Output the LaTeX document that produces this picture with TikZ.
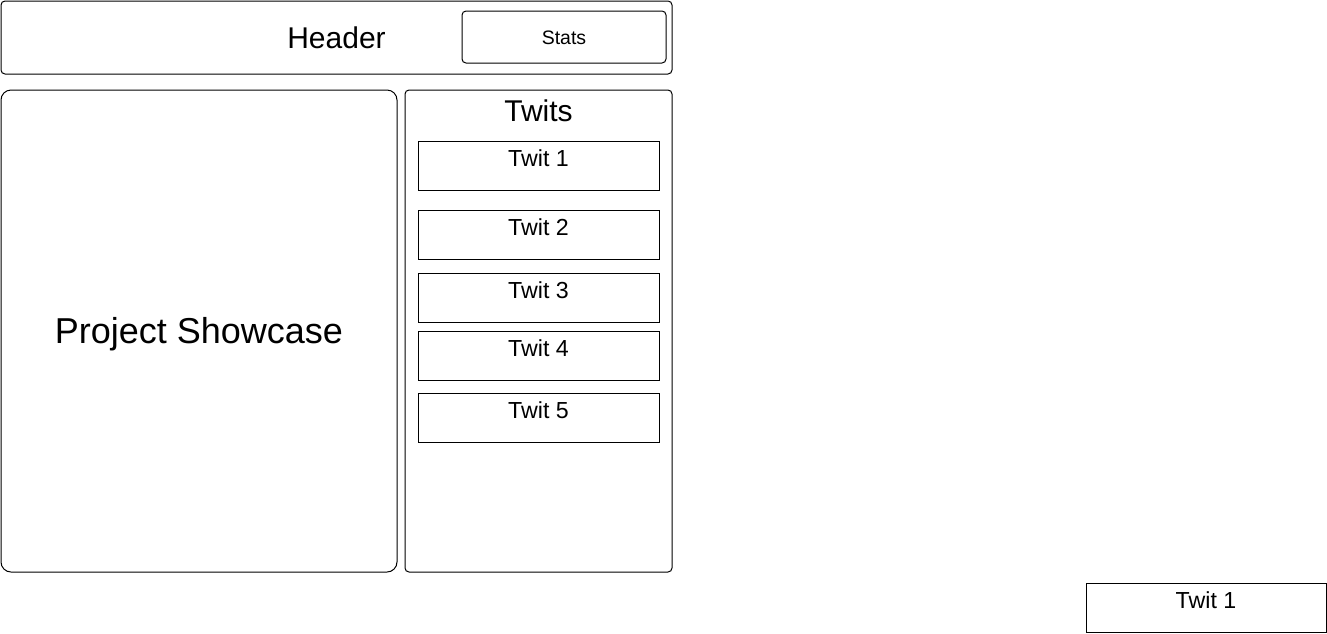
\documentclass[tikz,border=0pt]{standalone}
\usepackage{fontspec}
\setmainfont{Liberation Sans}
\tikzset{every picture/.style={line width=0.75pt}}
\tikzset{
	panel/.style={rounded corners=3pt},
	bigpanel/.style={rounded corners=7.5pt},
	txt/.style={anchor=base,inner sep=0.75pt},
	hugefont/.style={font=\fontsize{27}{32}\selectfont},
	titlefont/.style={font=\fontsize{22.5}{27}\selectfont},
	twitfont/.style={font=\fontsize{17.4}{21}\selectfont},
	statfont/.style={font=\fontsize{14.6}{18}\selectfont}
}
\begin{document}
\begin{tikzpicture}[x=0.75pt,y=0.75pt,yscale=-1,xscale=1]
	\useasboundingbox (0,0) rectangle (1327,633);
	
	%Rounded Rect [id:header]
	\draw [panel] (1,1) rectangle (672,74);
	%Rounded Rect [id:stats]
	\draw [panel] (462,11) rectangle (666,63);
	%Rounded Rect [id:showcase]
	\draw [bigpanel] (1,90) rectangle (397,572);
	%Rounded Rect [id:twitpanel]
	\draw [panel] (405,90) rectangle (672,572);
	
	%Shape: Rectangle [id:twit boxes]
	\draw (418,141) rectangle (659,190);
	\draw (418,210) rectangle (659,259);
	\draw (418,273) rectangle (659,322);
	\draw (418,331) rectangle (659,380);
	\draw (418,393) rectangle (659,442);
	%Shape: Rectangle [id:loose twit]
	\draw (1086,583) rectangle (1326,632);
	
	% Text Node
	\draw (336.5,48) node [txt,titlefont] (header) {Header};
	% Text Node
	\draw (564,44) node [txt,statfont] (stats) {Stats};
	% Text Node
	\draw (199,343) node [txt,hugefont] (showcase) {Project Showcase};
	% Text Node
	\draw (538.5,121) node [txt,titlefont] (twits) {Twits};
	% Text Node
	\draw (538.5,166) node [txt,twitfont] (twit1) {Twit 1};
	% Text Node
	\draw (538.5,235) node [txt,twitfont] (twit2) {Twit 2};
	% Text Node
	\draw (538.5,298) node [txt,twitfont] (twit3) {Twit 3};
	% Text Node
	\draw (538.5,356) node [txt,twitfont] (twit4) {Twit 4};
	% Text Node
	\draw (538.5,418) node [txt,twitfont] (twit5) {Twit 5};
	% Text Node
	\draw (1206,608) node [txt,twitfont] (twitcopy) {Twit 1};
	
\end{tikzpicture}
\end{document}
